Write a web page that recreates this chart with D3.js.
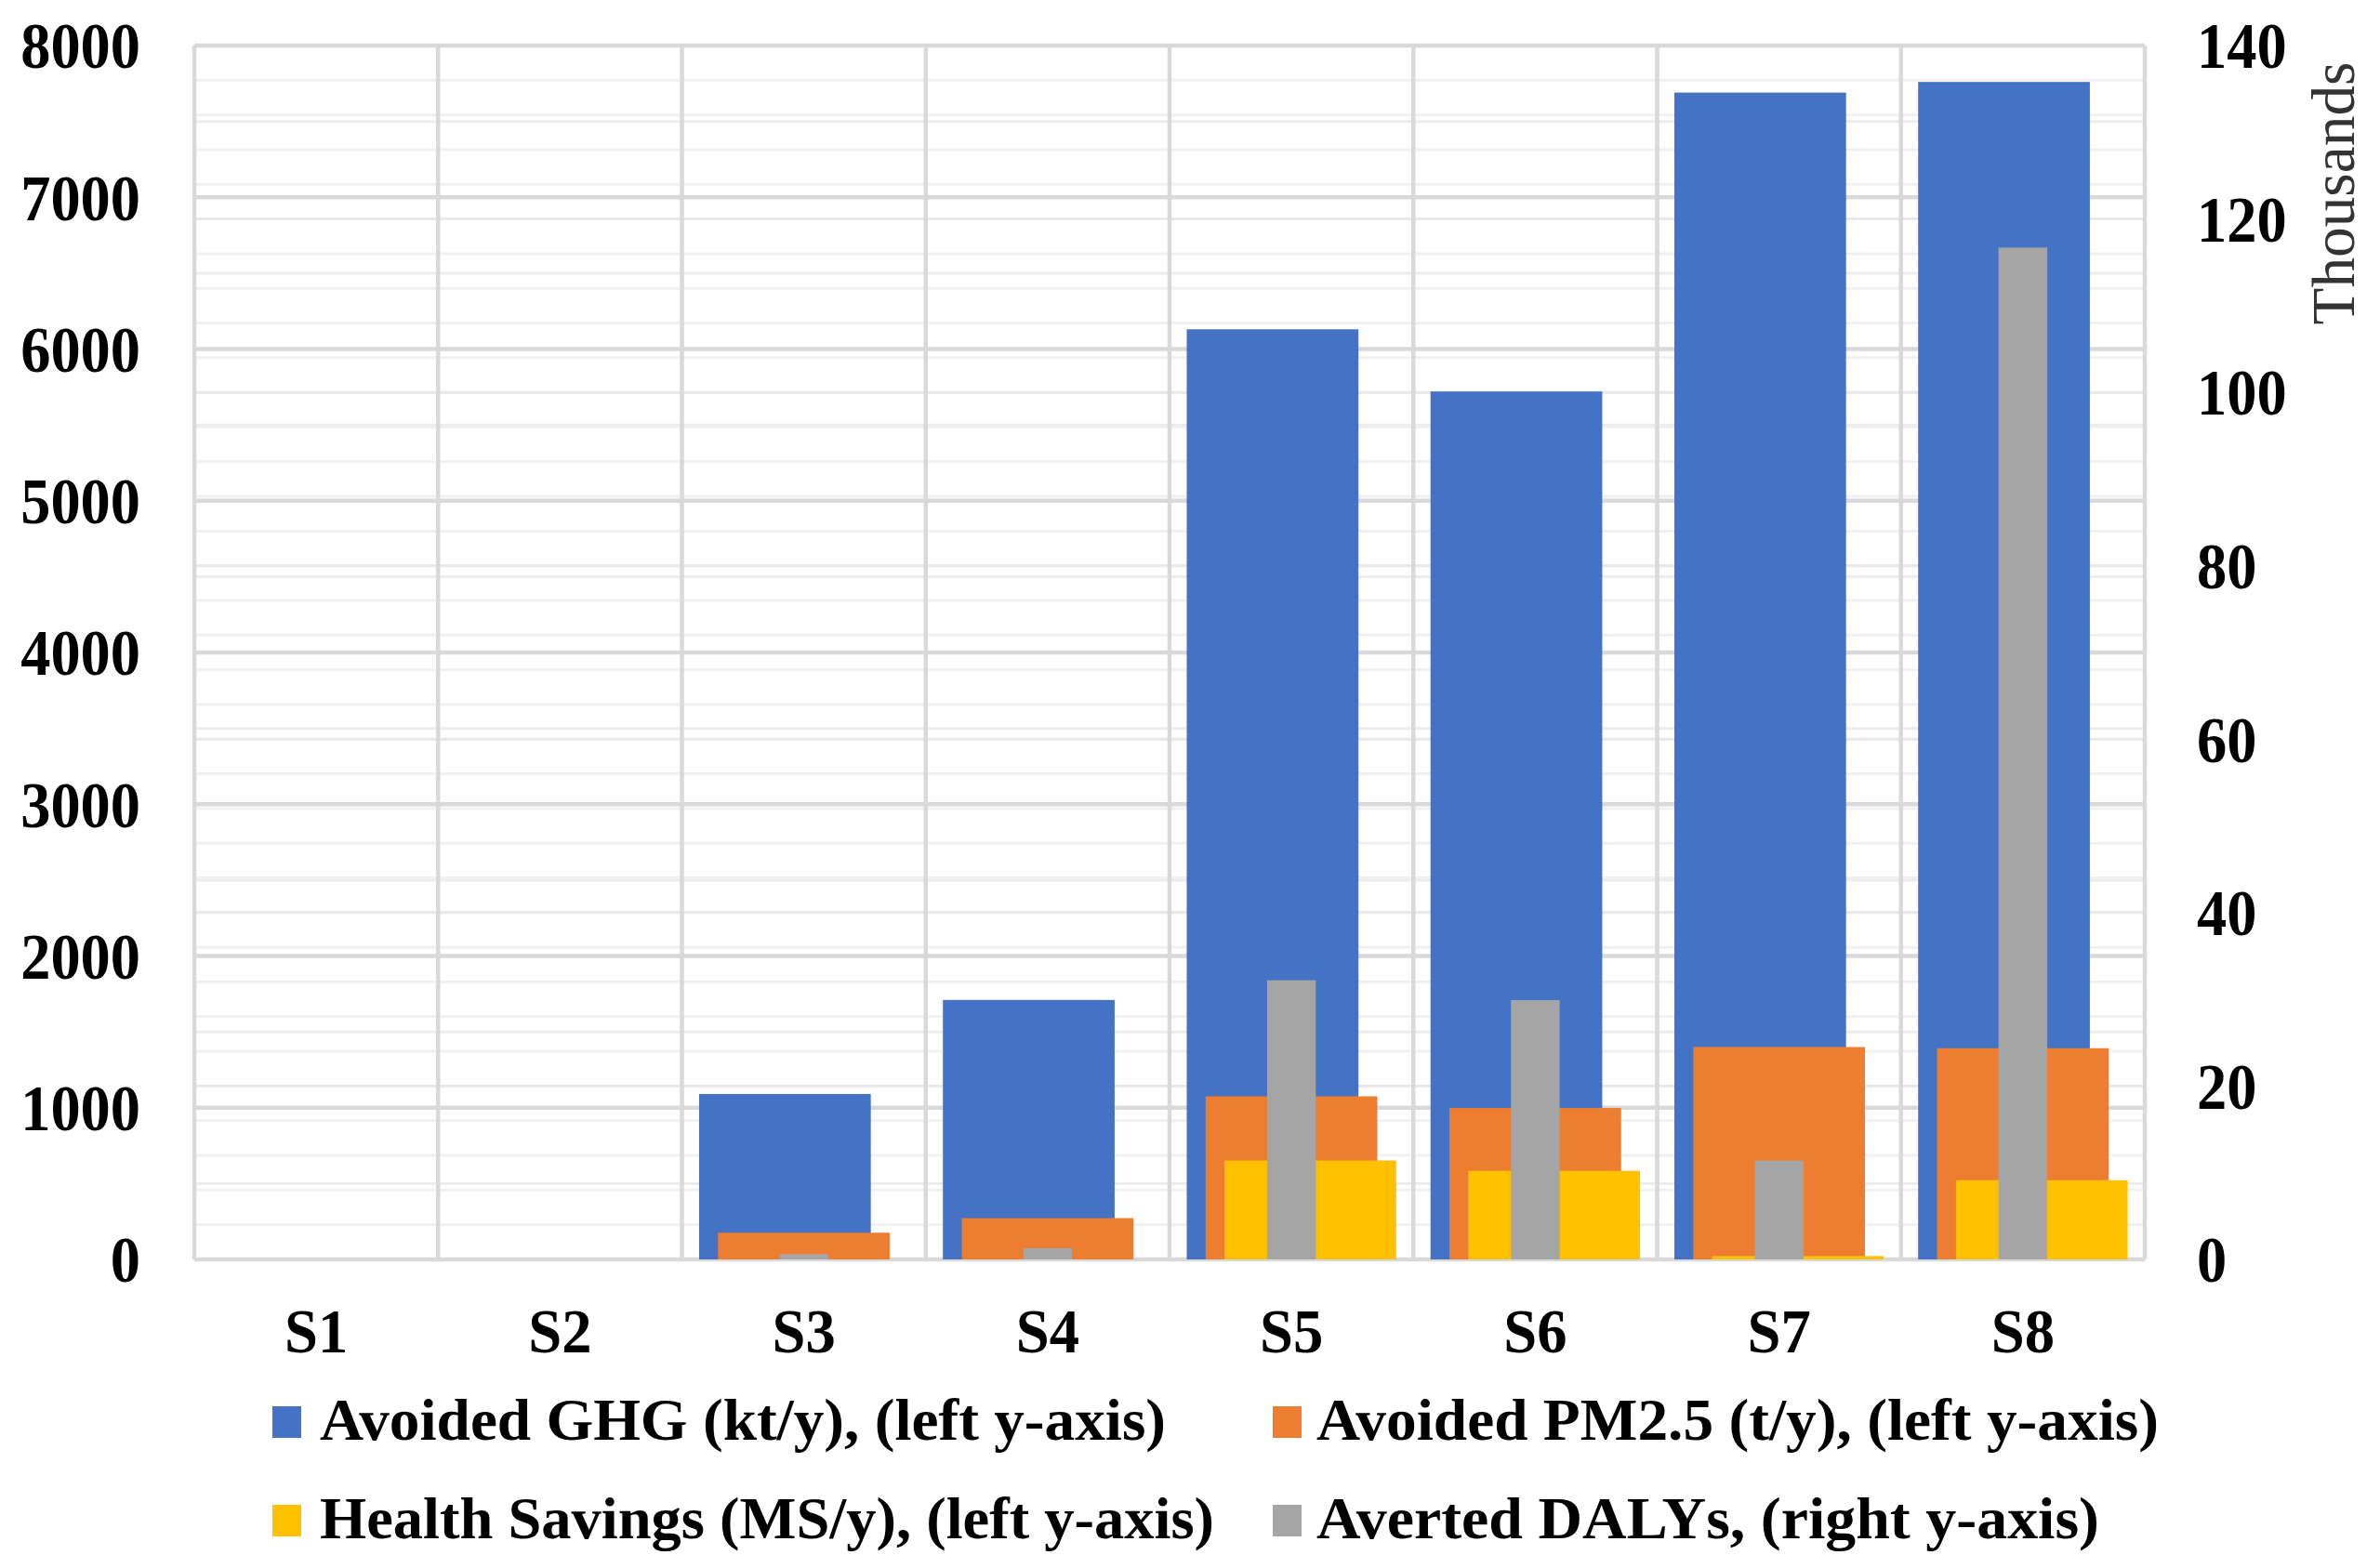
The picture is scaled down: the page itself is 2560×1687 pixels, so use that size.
<!DOCTYPE html>
<html>
<head>
<meta charset="utf-8">
<script src="https://cdn.jsdelivr.net/npm/d3@7"></script>
<style>
  html, body { margin: 0; padding: 0; background: #fff; }
  svg { display: block; }
  text { font-family: "Liberation Serif", "Times New Roman", serif; }
</style>
</head>
<body>
<svg id="chart" width="2560" height="1687"></svg>
<script>
// scenario values
var scenarios = ["S1", "S2", "S3", "S4", "S5", "S6", "S7", "S8"];
var ghg = [0, 0, 1090, 1710, 6130, 5720, 7690, 7760];      // kt/y, left axis
var pm25 = [0, 0, 176, 272, 1075, 998, 1400, 1392];         // t/y, left axis
var health = [0, 0, 0, 0, 652, 584, 22, 522];               // M$/y, left axis
var dalys = [0, 0, 600, 1300, 32200, 29900, 11400, 116700]; // right axis

var leftTicks = [0, 1000, 2000, 3000, 4000, 5000, 6000, 7000, 8000];
var rightTicks = [0, 20000, 40000, 60000, 80000, 100000, 120000, 140000];

var legendLabels = [
    "Avoided GHG (kt/y), (left y-axis)",
    "Avoided PM2.5 (t/y), (left y-axis)",
    "Health Savings (MS/y), (left y-axis)",
    "Averted DALYs, (right y-axis)"
];
var colors = ["#4472C4", "#ED7D31", "#FFC000", "#A5A5A5"];

var svg = d3.select("#chart");

// NB: "top" is taken by window.top, so prefix everything
var plotLeft = 209, plotRight = 2307, plotTop = 49, plotBottom = 1355;

var x = d3.scaleBand().domain(scenarios).range([plotLeft, plotRight]).padding(0);
var yL = d3.scaleLinear().domain([0, 8000]).range([plotBottom, plotTop]);
var yR = d3.scaleLinear().domain([0, 140000]).range([plotBottom, plotTop]);

var grid = svg.append("g").attr("class", "grid");

function hlines(values, scale, color, width) {
    grid.selectAll(null)
        .data(values)
        .enter().append("line")
        .attr("x1", plotLeft).attr("x2", plotRight)
        .attr("y1", function(d) { return scale(d); })
        .attr("y2", function(d) { return scale(d); })
        .attr("stroke", color)
        .attr("stroke-width", width);
}

// minor + major gridlines for both value axes
hlines(d3.range(0, 140001, 4000), yR, "#f1f1f1", 3);
hlines(rightTicks, yR, "#e9e9e9", 3);
hlines(d3.range(500, 8000, 1000), yL, "#ededed", 3);
hlines(leftTicks, yL, "#d9d9d9", 4.5);

// category separators
grid.selectAll(null)
    .data(scenarios.concat(["end"]))
    .enter().append("line")
    .attr("x1", function(d, i) { return plotLeft + i * x.bandwidth(); })
    .attr("x2", function(d, i) { return plotLeft + i * x.bandwidth(); })
    .attr("y1", plotTop).attr("y2", plotBottom)
    .attr("stroke", "#d9d9d9")
    .attr("stroke-width", 4.5);

// primary bars: gap width 20%, heavy overlap
var C = x.bandwidth();
var GAP = 0.2, OVERLAP = 0.89;
var barw = C / (1 + 2 * (1 - OVERLAP) + GAP);
var step = barw * (1 - OVERLAP);
var groupStart = GAP * barw / 2;

var primary = [ghg, pm25, health];

var layers = svg.append("g").attr("class", "bars")
    .selectAll("g.stack")
    .data(primary)
    .enter().append("g")
    .attr("class", function(d, i) { return "stack _" + i; })
    .style("fill", function(d, i) { return colors[i]; });

layers.each(function(series, i) {
    d3.select(this).selectAll("rect.bar")
        .data(series)
        .enter().append("rect")
        .attr("class", "bar")
        .attr("x", function(d, j) { return x(scenarios[j]) + groupStart + i * step; })
        .attr("y", function(d) { return yL(d); })
        .attr("width", barw)
        .attr("height", function(d) { return yL(0) - yL(d); });
});

// secondary bars: gap width 400%
var dalyw = C / 5;
svg.append("g").attr("class", "dalys")
    .selectAll("rect")
    .data(dalys)
    .enter().append("rect")
    .attr("x", function(d, j) { return x(scenarios[j]) + (C - dalyw) / 2; })
    .attr("y", function(d) { return yR(d); })
    .attr("width", dalyw)
    .attr("height", function(d) { return yR(0) - yR(d); })
    .style("fill", colors[3]);

// axes -- the source font is a bit narrower than Liberation, squeeze it
function styleAxis(size, squeeze) {
    return function(g) {
        g.select(".domain").remove();
        g.selectAll("text")
            .style("font-family", "'Liberation Serif', 'Times New Roman', serif")
            .style("font-weight", "bold")
            .style("font-size", size + "px")
            .attr("fill", "#000")
            .each(function() {
                var len = this.getComputedTextLength();
                d3.select(this)
                    .attr("textLength", len * squeeze)
                    .attr("lengthAdjust", "spacingAndGlyphs");
            });
    };
}

svg.append("g")
    .attr("transform", "translate(" + plotLeft + ",0)")
    .call(d3.axisLeft(yL).tickValues(leftTicks).tickSize(0).tickPadding(58)
        .tickFormat(d3.format("d")))
    .call(styleAxis(70, 0.92))
    .selectAll("text").attr("dy", "0.34em");

svg.append("g")
    .attr("transform", "translate(" + plotRight + ",0)")
    .call(d3.axisRight(yR).tickValues(rightTicks).tickSize(0).tickPadding(56)
        .tickFormat(function(d) { return d / 1000; }))
    .call(styleAxis(70, 0.92))
    .selectAll("text").attr("dy", "0.34em");

svg.append("g")
    .attr("transform", "translate(0," + plotBottom + ")")
    .call(d3.axisBottom(x).tickSize(0).tickPadding(52))
    .call(styleAxis(68, 0.95))
    .selectAll("text").attr("dy", "0.71em");

svg.append("text")
    .attr("transform", "translate(2532,208) rotate(-90)")
    .attr("text-anchor", "middle")
    .attr("textLength", 283)
    .attr("lengthAdjust", "spacingAndGlyphs")
    .style("font-size", "66px")
    .attr("fill", "#333")
    .text("Thousands");

// legend, two columns
var legendPos = [
    {mx: 293, tx: 344, y: 1549, len: 910},
    {mx: 1369, tx: 1416, y: 1549, len: 906},
    {mx: 293, tx: 344, y: 1655, len: 962},
    {mx: 1369, tx: 1416, y: 1655, len: 842}
];

var legend = svg.append("g").attr("class", "legend")
    .selectAll("g")
    .data(legendLabels)
    .enter().append("g");

legend.append("rect")
    .attr("x", function(d, i) { return legendPos[i].mx; })
    .attr("y", function(d, i) { return legendPos[i].y - 36; })
    .attr("width", 31)
    .attr("height", 34)
    .style("fill", function(d, i) { return colors[i]; });

legend.append("text")
    .attr("x", function(d, i) { return legendPos[i].tx; })
    .attr("y", function(d, i) { return legendPos[i].y; })
    .attr("textLength", function(d, i) { return legendPos[i].len; })
    .attr("lengthAdjust", "spacingAndGlyphs")
    .style("font-size", "64px")
    .style("font-weight", "bold")
    .text(function(d) { return d; });
</script>
</body>
</html>
